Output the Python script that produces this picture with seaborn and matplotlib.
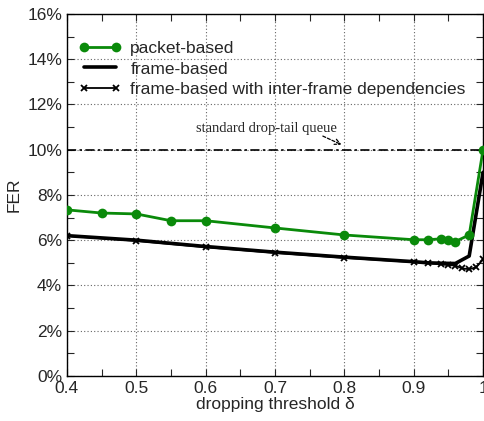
import matplotlib
matplotlib.use("Agg")
import matplotlib.pyplot as plt
import seaborn as sns
import pandas as pd
from matplotlib.ticker import MultipleLocator, FuncFormatter

# data
x_packet = [0.4, 0.45, 0.5, 0.55, 0.6, 0.7, 0.8, 0.9, 0.92, 0.94, 0.95, 0.96, 0.98, 1.0]
y_packet = [7.34, 7.2, 7.16, 6.86, 6.86, 6.54, 6.23, 6.02, 6.02, 6.06, 6.02, 5.94, 6.23, 10.0]

x_frame = [0.4, 0.5, 0.6, 0.7, 0.8, 0.9, 0.92, 0.94, 0.96, 0.98, 1.0]
y_frame = [6.2, 6.0, 5.72, 5.47, 5.25, 5.05, 5.0, 4.98, 4.97, 5.3, 9.0]

x_inter = [0.4, 0.5, 0.6, 0.7, 0.8, 0.9, 0.92, 0.94, 0.95, 0.96, 0.97, 0.98, 0.99, 1.0]
y_inter = [6.19, 5.97, 5.69, 5.44, 5.22, 5.03, 4.99, 4.93, 4.9, 4.88, 4.75, 4.72, 4.8, 5.15]

droptail_level = 10.0
labels = ["packet-based", "frame-based", "frame-based with inter-frame dependencies"]
annotation_text = "standard drop-tail queue"

sns.set_style("ticks")
plt.rcParams['font.family'] = ['Liberation Sans', 'DejaVu Sans']

fig = plt.figure(figsize=(4.85, 4.21), dpi=100)
ax = fig.add_axes([0.138, 0.107, 0.858, 0.860])

df_p = pd.DataFrame({"x": x_packet, "y": y_packet})
df_f = pd.DataFrame({"x": x_frame, "y": y_frame})
df_i = pd.DataFrame({"x": x_inter, "y": y_inter})

ax.axhline(droptail_level, color="black", lw=1.2, dashes=(5.5, 2, 1.5, 2), zorder=2)

green = "#0a8a0a"
sns.lineplot(data=df_p, x="x", y="y", ax=ax, color=green, lw=2.0, marker="o",
             markersize=7, markeredgewidth=0, markeredgecolor=green,
             label=labels[0], zorder=4)
sns.lineplot(data=df_f, x="x", y="y", ax=ax, color="black", lw=2.6, label=labels[1], zorder=3)
sns.lineplot(data=df_i, x="x", y="y", ax=ax, color="black", lw=1.3, marker="x",
             markersize=5, markeredgewidth=1.3, markeredgecolor="black",
             label=labels[2], zorder=3)

ax.set_xlim(0.4, 1.0)
ax.set_ylim(0, 16)
ax.xaxis.set_major_locator(MultipleLocator(0.1))
ax.xaxis.set_minor_locator(MultipleLocator(0.05))
ax.yaxis.set_major_locator(MultipleLocator(2))
ax.yaxis.set_minor_locator(MultipleLocator(1))
ax.xaxis.set_major_formatter(FuncFormatter(lambda v, p: "1" if abs(v - 1) < 1e-9 else f"{v:.1f}"))
ax.yaxis.set_major_formatter(FuncFormatter(lambda v, p: f"{v:.0f}%"))
ax.tick_params(which="both", direction="in", top=True, right=True, labelsize=12.5, width=0.8)
ax.tick_params(which="major", length=5)
ax.tick_params(which="minor", length=5)
ax.grid(True, which="major", color="#666666", linestyle=(0, (1, 2)), lw=0.8)
for s in ax.spines.values():
    s.set_linewidth(1.0)
    s.set_color("black")

ax.set_xlabel("dropping threshold δ", fontsize=12.5, labelpad=1)
ax.set_ylabel("FER", fontsize=12.5, labelpad=4)

ax.annotate(annotation_text, xy=(0.796, 10.22), xytext=(0.687, 10.95),
            fontsize=10.5, family="Liberation Serif", ha="center", va="center")
ax.annotate("", xy=(0.796, 10.22), xytext=(0.769, 10.6),
            arrowprops=dict(arrowstyle="->", lw=0.9, linestyle=(0, (2.5, 1.5)), color="black",
                            shrinkA=0, shrinkB=0))

leg = ax.legend(loc="upper left", bbox_to_anchor=(0.0, 0.96), frameon=False, fontsize=12.5,
                handlelength=2.4, labelspacing=0.33, handletextpad=0.55, borderaxespad=0.3,
                numpoints=2)

fig.savefig("out.png", dpi=100)
